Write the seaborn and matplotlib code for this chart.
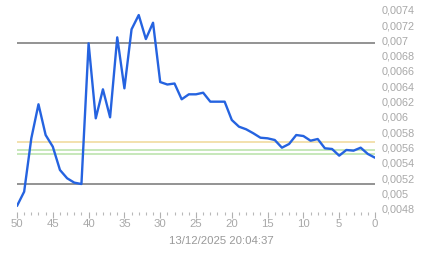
import matplotlib
matplotlib.use("Agg")
import matplotlib.pyplot as plt
import matplotlib.ticker as mticker
import matplotlib.transforms as mtransforms
import seaborn as sns
import pandas as pd

# Data
t_values = list(range(50, -1, -1))
prices = [
    0.004879, 0.005065, 0.005761, 0.006205, 0.005804, 0.005652, 0.005348, 0.005240,
    0.005183, 0.005165, 0.007000, 0.006022, 0.006400, 0.006035, 0.007078, 0.006413,
    0.007183, 0.007369, 0.007056, 0.007269, 0.006495, 0.006463, 0.006476, 0.006270,
    0.006335, 0.006335, 0.006356, 0.006239, 0.006239, 0.006239, 0.006000, 0.005913,
    0.005879, 0.005827, 0.005769, 0.005761, 0.005739, 0.005639, 0.005687, 0.005804,
    0.005791, 0.005730, 0.005752, 0.005631, 0.005622, 0.005535, 0.005609, 0.005600,
    0.005639, 0.005557, 0.005508,
]
ref_levels = [0.007, 0.005162]          # dark grey lines
ref_colors = ["#808080", "#808080"]
band_levels = [0.005709, 0.005605, 0.005557]
band_colors = ["#f0d898", "#b8e2a8", "#b8e2a8"]
x_ticks = [50, 45, 40, 35, 30, 25, 20, 15, 10, 5, 0]
y_ticks = [0.0048, 0.005, 0.0052, 0.0054, 0.0056, 0.0058, 0.006, 0.0062,
           0.0064, 0.0066, 0.0068, 0.007, 0.0072, 0.0074]
timestamp = "13/12/2025 20:04:37"

df = pd.DataFrame({"t": t_values, "price": prices})

sns.set_style("white")
plt.rcParams["font.family"] = ["Liberation Sans", "DejaVu Sans"]

fig = plt.figure(figsize=(4.43, 2.58), dpi=100)
ax = fig.add_axes([17 / 443, 1 - 212 / 258, (375 - 17) / 443, (212 - 5) / 258])

for lvl, c in zip(band_levels, band_colors):
    ax.axhline(lvl, color=c, lw=1.1, zorder=1)
for lvl, c in zip(ref_levels, ref_colors):
    ax.axhline(lvl, color=c, lw=1.2, zorder=1)

sns.lineplot(data=df, x="t", y="price", ax=ax, color="#2563e0", lw=1.7, zorder=3)

ax.set_xlim(50, 0)
ax.set_ylim(0.0048, 0.0075)

for s in ax.spines.values():
    s.set_visible(False)

grey = "#a8a8a8"
ax.set_xticks(x_ticks)
ax.set_xticklabels([str(v) for v in x_ticks])
ax.xaxis.set_minor_locator(mticker.MultipleLocator(1))
ax.tick_params(axis="x", which="major", length=4, width=0.8, color="#b0b0b0",
               labelsize=8.2, labelcolor=grey, pad=1, bottom=True)
ax.tick_params(axis="x", which="minor", length=2, width=0.8, color="#b8b8b8", bottom=True)

ax.yaxis.tick_right()
ax.set_yticks(y_ticks)
ax.set_yticklabels([("%g" % v).replace(".", ",") for v in y_ticks])
ax.tick_params(axis="y", length=0, labelsize=7.8, labelcolor=grey, pad=5)
offset = mtransforms.ScaledTranslation(0, 2 / 100, fig.dpi_scale_trans)
for lab in ax.get_yticklabels():
    lab.set_verticalalignment("center")
    lab.set_transform(lab.get_transform() + offset)
ax.set_xlabel("")
ax.set_ylabel("")
fig.text(221 / 443, 1 - 241 / 258, timestamp, ha="center", va="center",
         fontsize=8.2, color="#999999")

fig.savefig("out.png", dpi=100)
